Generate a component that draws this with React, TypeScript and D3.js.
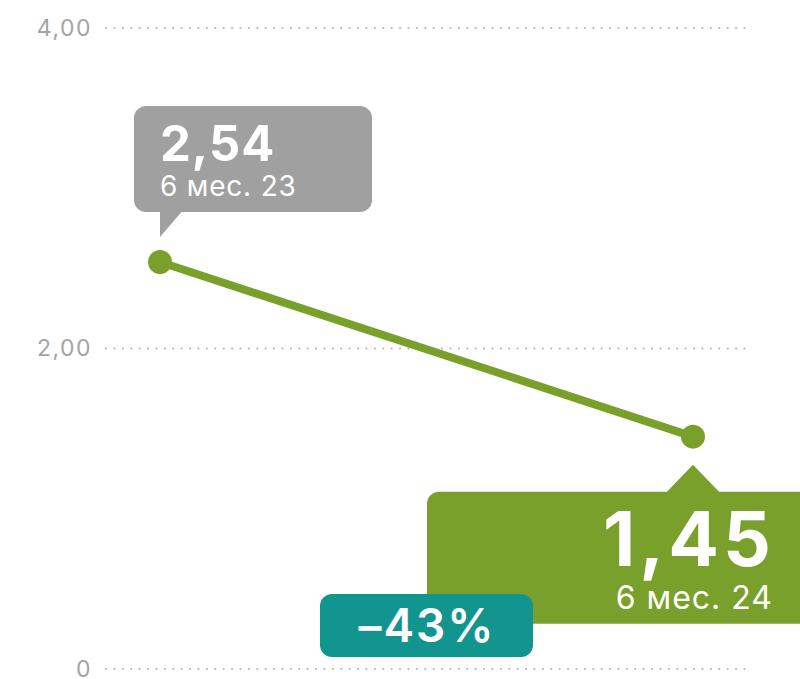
import React, { useRef, useEffect } from 'react';
import * as d3 from 'd3';

const periods = ['6 мес. 23', '6 мес. 24'];
const values = [2.54, 1.45];
const valueLabels = ['2,54', '1,45'];
const yTicks = [0, 2, 4];
const yTickLabels = ['0', '2,00', '4,00'];
const changeLabel = '–43%';

const W = 800;
const H = 679;
const GREEN = '#78a02a';
const GREY = '#a0a0a0';
const TEAL = '#13958f';
const FONT = 'Inter, "Noto Sans", sans-serif';

const App = () => {
  const ref = useRef<SVGSVGElement>(null);

  useEffect(() => {
    const svg = d3.select(ref.current);
    svg.selectAll('*').remove();

    const y = d3.scaleLinear().domain([0, 4]).range([669, 28]);
    const x = d3.scalePoint().domain(periods).range([160, 693]);

    // Grid
    const grid = svg.append('g');
    yTicks.forEach((t, i) => {
      grid.append('line')
        .attr('x1', 106).attr('x2', 748)
        .attr('y1', y(t)).attr('y2', y(t))
        .attr('stroke', '#b5b5b5')
        .attr('stroke-width', 2)
        .attr('stroke-linecap', 'round')
        .attr('stroke-dasharray', '0.1 8.3');
      grid.append('text')
        .attr('x', 92).attr('y', y(t))
        .attr('dy', '0.34em')
        .attr('text-anchor', 'end')
        .attr('fill', '#a3a3a3')
        .attr('font-family', FONT)
        .attr('font-size', 23)
        .attr('letter-spacing', 1.5)
        .text(yTickLabels[i]);
    });

    const pts = periods.map((p, i) => [x(p) as number, y(values[i])] as [number, number]);

    // Line
    svg.append('path')
      .attr('d', d3.line()(pts))
      .attr('stroke', GREEN)
      .attr('stroke-width', 8)
      .attr('fill', 'none');

    svg.selectAll('circle.pt')
      .data(pts)
      .enter()
      .append('circle')
      .attr('class', 'pt')
      .attr('cx', d => d[0])
      .attr('cy', d => d[1])
      .attr('r', 12)
      .attr('fill', GREEN);

    // Grey callout (first point)
    const [x0, y0] = pts[0];
    const g1 = svg.append('g');
    g1.append('rect')
      .attr('x', x0 - 26).attr('y', y0 - 156)
      .attr('width', 238).attr('height', 106)
      .attr('rx', 12)
      .attr('fill', GREY);
    g1.append('path')
      .attr('d', `M${x0},${y0 - 53} L${x0 + 24},${y0 - 53} L${x0},${y0 - 25} Z`)
      .attr('fill', GREY);
    g1.append('text')
      .attr('x', x0).attr('y', y0 - 101)
      .attr('fill', '#fff')
      .attr('font-family', FONT)
      .attr('font-weight', 700)
      .attr('font-size', 49)
      .attr('letter-spacing', 1)
      .text(valueLabels[0]);
    g1.append('text')
      .attr('x', x0).attr('y', y0 - 66)
      .attr('fill', '#fff')
      .attr('font-family', FONT)
      .attr('font-size', 28)
      .attr('letter-spacing', 0.8)
      .text(periods[0]);

    // Green callout (second point)
    const [x1, y1] = pts[1];
    const g2 = svg.append('g');
    g2.append('rect')
      .attr('x', 427).attr('y', y1 + 55)
      .attr('width', 385).attr('height', 132)
      .attr('rx', 12)
      .attr('fill', GREEN);
    g2.append('path')
      .attr('d', `M${x1 - 27},${y1 + 56} L${x1},${y1 + 28} L${x1 + 27},${y1 + 56} Z`)
      .attr('fill', GREEN);
    g2.append('text')
      .attr('x', 775).attr('y', y1 + 129)
      .attr('text-anchor', 'end')
      .attr('fill', '#fff')
      .attr('font-family', FONT)
      .attr('font-weight', 700)
      .attr('font-size', 75)
      .attr('letter-spacing', 4)
      .text(valueLabels[1]);
    g2.append('text')
      .attr('x', 773).attr('y', y1 + 172)
      .attr('text-anchor', 'end')
      .attr('fill', '#fff')
      .attr('font-family', FONT)
      .attr('font-size', 32)
      .attr('letter-spacing', 1)
      .text(periods[1]);

    // Change badge
    const g3 = svg.append('g');
    g3.append('rect')
      .attr('x', 320).attr('y', 594)
      .attr('width', 213).attr('height', 63)
      .attr('rx', 12)
      .attr('fill', TEAL);
    g3.append('text')
      .attr('x', 427).attr('y', 642)
      .attr('text-anchor', 'middle')
      .attr('fill', '#fff')
      .attr('font-family', FONT)
      .attr('font-weight', 600)
      .attr('font-size', 46)
      .attr('letter-spacing', 2)
      .text(changeLabel);
  }, []);

  return (
    <svg ref={ref} width={W} height={H}
      style={{ position: 'absolute', left: 0, top: 0, display: 'block' }} />
  );
};

export default App;
